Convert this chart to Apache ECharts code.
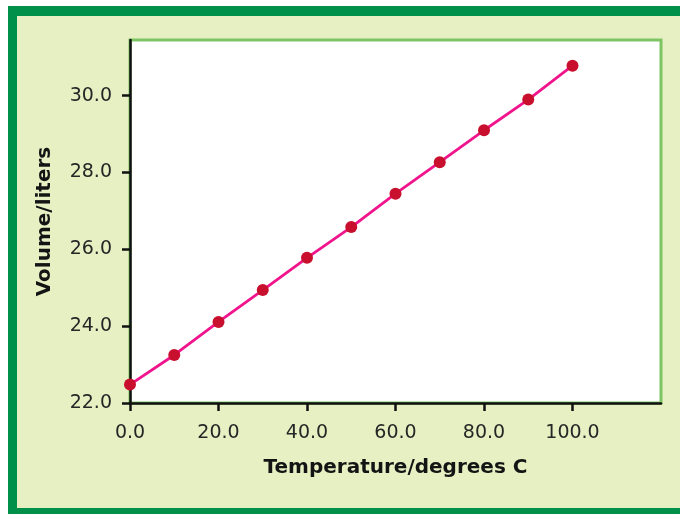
<!DOCTYPE html>
<html>
<head>
<meta charset="utf-8">
<script src="https://cdn.jsdelivr.net/npm/echarts@6/dist/echarts.min.js"></script>
<style>
  html, body { margin: 0; padding: 0; background: #ffffff; }
  #frame { position: absolute; left: 8px; top: 6px; width: 680px; height: 508px; background: #00904a; }
  #inner { position: absolute; left: 17px; top: 16px; width: 663px; height: 492px; background: #e7f0c3; }
  #chart { position: absolute; left: 0; top: 0; width: 680px; height: 514px; }
</style>
</head>
<body>
<div id="frame"></div>
<div id="inner"></div>
<div id="chart"></div>
<script>
const temperatures = [0, 10, 20, 30, 40, 50, 60, 70, 80, 90, 100];
const volumes = [22.48, 23.25, 24.11, 24.94, 25.78, 26.58, 27.45, 28.27, 29.10, 29.90, 30.78];
const xTicks = [0, 20, 40, 60, 80, 100];
const yTicks = [22, 24, 26, 28, 30];

const chart = echarts.init(document.getElementById('chart'), null, { renderer: 'canvas' });
const labelFont = { fontFamily: 'DejaVu Sans', fontSize: 19, color: '#262626' };
const nameFont = { fontFamily: 'DejaVu Sans', fontSize: 20, fontWeight: 'bold', color: '#141414' };

chart.setOption({
  backgroundColor: 'transparent',
  animation: false,
  grid: {
    left: 130, right: 19, top: 40, bottom: 111,
    show: true, backgroundColor: '#ffffff', borderColor: '#7cc562', borderWidth: 3
  },
  xAxis: {
    type: 'value', min: 0, max: 120, interval: 20,
    name: 'Temperature/degrees C', nameLocation: 'middle', nameGap: 55,
    nameTextStyle: nameFont,
    axisLine: { show: true, onZero: false, lineStyle: { color: '#111', width: 2.5 } },
    axisTick: { show: true, length: 8, lineStyle: { color: '#111', width: 2.5 }, customValues: xTicks },
    axisLabel: Object.assign({ margin: 21, customValues: xTicks, formatter: v => v.toFixed(1) }, labelFont),
    splitLine: { show: false }
  },
  yAxis: {
    type: 'value', min: 22, max: 31.45, interval: 2,
    name: 'Volume/liters', nameLocation: 'middle', nameGap: 75, nameRotate: 90,
    nameTextStyle: nameFont,
    axisLine: { show: true, onZero: false, lineStyle: { color: '#111', width: 2.5 } },
    axisTick: { show: true, length: 8, lineStyle: { color: '#111', width: 2.5 }, customValues: yTicks },
    axisLabel: Object.assign({ margin: 18, customValues: yTicks, formatter: v => v.toFixed(1) }, labelFont),
    splitLine: { show: false }
  },
  series: [{
    type: 'line',
    data: temperatures.map((t, i) => [t, volumes[i]]),
    symbol: 'circle', symbolSize: 12,
    lineStyle: { color: '#f0158c', width: 2.8 },
    itemStyle: { color: '#c8102e' },
    z: 3
  }]
});
</script>
</body>
</html>
